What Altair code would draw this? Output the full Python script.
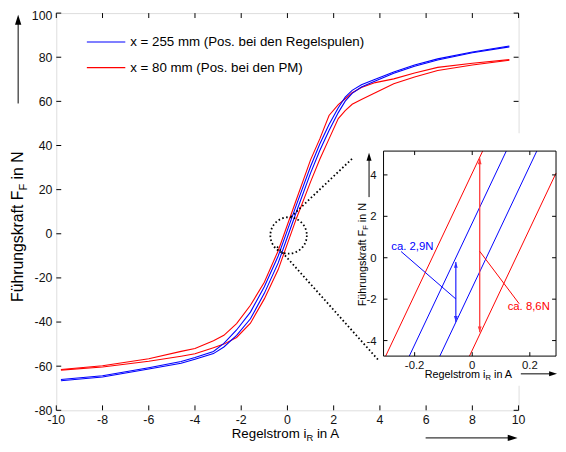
import altair as alt
import pandas as pd

FONT = "Liberation Sans"

# Regelstrom i_R in A
i_R = [-9.8, -8, -6, -4.6, -4, -3.2, -2.75, -2.2, -1.6, -1.0, -0.4, 0, 0.4,
       1.0, 1.4, 1.8, 2.2, 2.5, 2.8, 3.2, 3.8, 4.6, 5.5, 6.5, 8, 9.6]
# Fuehrungskraft F_F in N, x = 255 mm (two branches of the hysteresis loop)
F_255_a = [-66.0, -64.3, -60.7, -57.9, -56.1, -53.3, -49.7, -43.6, -35.5, -24.0, -10.08, 1.68, 13.44,
           30.5, 40.7, 49.5, 57.1, 61.9, 65.0, 67.5, 70.0, 73.3, 76.5, 79.25, 82.4, 85.1]
F_255_b = [-66.6, -64.9, -61.3, -58.7, -56.9, -54.3, -51.3, -46.0, -38.5, -27.0, -13.2, -1.44, 10.32,
           27.5, 37.7, 46.8, 54.9, 60.1, 63.6, 66.5, 69.2, 72.7, 75.9, 78.75, 82.0, 84.7]
# x = 80 mm
F_80_a = [-61.5, -59.8, -56.6, -53.3, -52.0, -48.5, -46.0, -40.7, -32.4, -22.0, -7.67, 4.09, 15.85,
          33.5, 43.0, 53.6, 58.5, 61.2, 63.9, 66.3, 68.5, 70.2, 72.9, 75.4, 77.3, 78.9]
F_80_b = [-61.8, -60.4, -57.8, -55.5, -54.4, -51.6, -50.0, -47.0, -40.5, -29.5, -16.23, -4.47, 7.29,
          23.5, 33.8, 43.0, 52.2, 55.8, 58.7, 60.8, 63.9, 68.0, 71.0, 74.0, 76.5, 78.6]

legend_labels = ["x = 255 mm (Pos. bei den Regelspulen)", "x = 80 mm (Pos. bei den PM)"]

x_ticks = [-10, -8, -6, -4, -2, 0, 2, 4, 6, 8, 10]
x_tick_labels = ["-10", "-8", "-6", "-4", "-2", "0", "2", "4", "6", "8", "10"]
y_ticks = [-80, -60, -40, -20, 0, 20, 40, 60, 80, 100]
y_tick_labels = ["-80", "-60", "-40", "-20", "0", "20", "40", "60", "80", "100"]

# ---------------- inset (zoom around the origin) ----------------
ins_x_ticks = [-0.2, 0, 0.2]
ins_x_tick_labels = ["-0.2", "0", "0.2"]
ins_y_ticks = [-4, -2, 0, 2, 4]
ins_y_tick_labels = ["-4", "-2", "0", "2", "4"]
# the four loop branches inside the inset window (start / end points)
ins_x1 = [-0.3006, -0.2186, -0.1126, -0.0096]
ins_F1 = [-4.75, -4.75, -4.75, -4.75]
ins_x2 = [0.0362, 0.1182, 0.2242, 0.291]
ins_F2 = [5.15, 5.15, 5.15, 4.087]
ins_col = ["#ff0000", "#0000ff", "#0000ff", "#ff0000"]
# hysteresis-width arrows
arr_x = [-0.057, 0.026]
arr_top = [-0.2, 4.8]
arr_bot = [-3.1, -3.6]
arr_col = ["#3030ff", "#ff3a3a"]
# annotation texts and leader lines
ann_text = ["ca. 2,9N", "ca. 8,6N"]
ann_tx = [-0.281, 0.123]
ann_tF = [0.36, -2.54]
ann_x1 = [-0.247, 0.026]
ann_F1 = [0.30, 0.31]
ann_x2 = [-0.057, 0.163]
ann_F2 = [-1.99, -2.22]
ann_col = ["#0000ff", "#ff0000"]

# zoom marker (dotted circle + dotted leader lines) in main-axis units
zoom_cx, zoom_cF = [0.05], [-0.76]
zl_x1 = [0.149, -0.448]
zl_F1 = [7.6, -5.8]
zl_x2 = [2.836, 3.915]
zl_F2 = [34.4, -57.0]

# ---------------- scales ----------------
xs = alt.Scale(domain=[-10, 10], nice=False, zero=False)
ys = alt.Scale(domain=[-80, 100], nice=False, zero=False)
ixs = alt.Scale(domain=[-0.308, 0.291], range=[332, 507], nice=False, zero=False)
iys = alt.Scale(domain=[-4.75, 5.15], range=[348, 140], nice=False, zero=False)

one = pd.DataFrame({"k": [0]})

UP = "M0,0L-0.32,1L0.32,1Z"
DOWN = "M0,0L-0.32,-1L0.32,-1Z"
RIGHT = "M0,0L-1,-0.32L-1,0.32Z"


def txt(s, x, y, size, color="black", angle=0):
    return alt.Chart(one).mark_text(
        text=s, fontSize=size, font=FONT, color=color, angle=angle,
        align="left", baseline="alphabetic"
    ).encode(x=alt.value(x), y=alt.value(y))


def seg(x1, y1, x2, y2, color="black", w=1.0):
    return alt.Chart(one).mark_rule(color=color, strokeWidth=w).encode(
        x=alt.value(x1), y=alt.value(y1), x2=alt.value(x2), y2=alt.value(y2))


def head(x, y, path, size, color="black"):
    return alt.Chart(one).mark_point(
        shape=path, size=size, filled=True, color=color, opacity=1, strokeWidth=0
    ).encode(x=alt.value(x), y=alt.value(y))


# ---------------- main group ----------------
n = len(i_R)
curves = pd.DataFrame({
    "i": i_R * 4,
    "F": F_80_a + F_80_b + F_255_a + F_255_b,
    "s": ["80a"] * n + ["80b"] * n + ["255a"] * n + ["255b"] * n,
})
curve_layer = alt.Chart(curves).mark_line(strokeWidth=1.1).encode(
    x=alt.X("i:Q", scale=xs, axis=None),
    y=alt.Y("F:Q", scale=ys, axis=None),
    color=alt.Color("s:N", scale=alt.Scale(domain=["80a", "80b", "255a", "255b"],
                                           range=["#ff0000", "#ff0000", "#0000ff", "#0000ff"]),
                    legend=None),
)

xt = pd.DataFrame({"v": x_ticks, "lab": x_tick_labels})
yt = pd.DataFrame({"v": y_ticks, "lab": y_tick_labels})

xtick_b = alt.Chart(xt).mark_rule(color="black").encode(
    x=alt.X("v:Q", scale=xs, axis=None), y=alt.value(398), y2=alt.value(403))
xtick_t = alt.Chart(xt).mark_rule(color="black").encode(
    x=alt.X("v:Q", scale=xs, axis=None), y=alt.value(0), y2=alt.value(5))
ytick_l = alt.Chart(yt).mark_rule(color="black").encode(
    y=alt.Y("v:Q", scale=ys, axis=None), x=alt.value(0), x2=alt.value(5))
ytick_r = alt.Chart(yt).mark_rule(color="black").encode(
    y=alt.Y("v:Q", scale=ys, axis=None), x=alt.value(464), x2=alt.value(469))

xlab = alt.Chart(xt).mark_text(font=FONT, fontSize=12.5, align="center", baseline="alphabetic",
                               color="#111").encode(
    x=alt.X("v:Q", scale=xs, axis=None), y=alt.value(416.7), text="lab:N")
ylab = alt.Chart(yt).transform_filter("datum.v < 100").mark_text(
    font=FONT, fontSize=12.5, align="right", baseline="alphabetic", dy=4.5, color="#111").encode(
    y=alt.Y("v:Q", scale=ys, axis=None), x=alt.value(-4), text="lab:N")
ylab_top = alt.Chart(yt).transform_filter("datum.v >= 100").mark_text(
    font=FONT, fontSize=12.5, align="right", baseline="alphabetic", dy=6.5, color="#111").encode(
    y=alt.Y("v:Q", scale=ys, axis=None), x=alt.value(-4), text="lab:N")

main_layers = [
    curve_layer, xtick_b, xtick_t, ytick_l, ytick_r, xlab, ylab, ylab_top,
    # legend
    seg(31, 29.3, 70, 29.3, "#0000ff", 1.2), txt(legend_labels[0], 75, 33.5, 13.5),
    seg(31, 55.3, 70, 55.3, "#ff0000", 1.2), txt(legend_labels[1], 75, 59.5, 13.5),
    # x title (subscript drawn separately)
    txt("Regelstrom i", 178, 431, 13.5), txt("R", 253.8, 434, 9.5), txt("in A", 264.4, 431, 13.5),
    # y title (rotated, subscript drawn separately)
    txt("Führungskraft F", -33.5, 293, 16, angle=270), txt("F", -30, 180.1, 11.2, angle=270),
    txt("in N", -33.5, 168.8, 16, angle=270),
    # direction arrows
    seg(-38.7, 91.7, -38.7, 10), head(-38.7, 1.7, UP, 400),
    seg(374.7, 431, 460, 431), head(468, 431, RIGHT, 400),
]
main_group = alt.layer(*main_layers)

# ---------------- inset group ----------------
ins_lines = pd.DataFrame({"x1": ins_x1, "F1": ins_F1, "x2": ins_x2, "F2": ins_F2, "c": ins_col})
ixt = pd.DataFrame({"v": ins_x_ticks, "lab": ins_x_tick_labels})
iyt = pd.DataFrame({"v": ins_y_ticks, "lab": ins_y_tick_labels})
arrows = pd.DataFrame({"x": arr_x, "top": arr_top, "bot": arr_bot, "c": arr_col})
ann = pd.DataFrame({"tx": ann_tx, "tF": ann_tF, "t": ann_text, "x1": ann_x1, "F1": ann_F1,
                    "x2": ann_x2, "F2": ann_F2, "c": ann_col})

IX = lambda f: alt.X(f, type="quantitative", scale=ixs, axis=None)
IY = lambda f: alt.Y(f, type="quantitative", scale=iys, axis=None)

white_bg = alt.Chart(one).mark_rect(color="white").encode(
    x=alt.value(301), x2=alt.value(509), y=alt.value(122), y2=alt.value(378))
ins_box = alt.Chart(one).mark_rect(fillOpacity=0, stroke="black", strokeWidth=1).encode(
    x=alt.value(332), x2=alt.value(507), y=alt.value(140), y2=alt.value(348))

ins_layers = [
    white_bg,
    alt.Chart(ins_lines).mark_rule(strokeWidth=1).encode(
        x=IX("x1"), y=IY("F1"), x2="x2", y2="F2", color=alt.Color("c:N", scale=None)),
    alt.Chart(ixt).mark_rule(color="black").encode(x=IX("v"), y=alt.value(344), y2=alt.value(348)),
    alt.Chart(ixt).mark_rule(color="black").encode(x=IX("v"), y=alt.value(140), y2=alt.value(144)),
    alt.Chart(iyt).mark_rule(color="black").encode(y=IY("v"), x=alt.value(332), x2=alt.value(336)),
    alt.Chart(iyt).mark_rule(color="black").encode(y=IY("v"), x=alt.value(503), x2=alt.value(507)),
    ins_box,
    alt.Chart(ixt).mark_text(font=FONT, fontSize=11.5, align="center", baseline="alphabetic",
                             color="#111").encode(x=IX("v"), y=alt.value(361.5), text="lab:N"),
    alt.Chart(iyt).mark_text(font=FONT, fontSize=11.5, align="right", baseline="alphabetic",
                             dy=4.1, color="#111").encode(y=IY("v"), x=alt.value(325), text="lab:N"),
    # hysteresis arrows
    alt.Chart(arrows).mark_rule(strokeWidth=1.3).encode(
        x=IX("x"), y=IY("top"), y2="bot", color=alt.Color("c:N", scale=None)),
    alt.Chart(arrows).mark_point(shape=UP, size=144, filled=True, opacity=1, strokeWidth=0).encode(
        x=IX("x"), y=IY("top"), color=alt.Color("c:N", scale=None)),
    alt.Chart(arrows).mark_point(shape=DOWN, size=144, filled=True, opacity=1, strokeWidth=0).encode(
        x=IX("x"), y=IY("bot"), color=alt.Color("c:N", scale=None)),
    # annotations
    alt.Chart(ann).mark_rule(strokeWidth=1).encode(
        x=IX("x1"), y=IY("F1"), x2="x2", y2="F2", color=alt.Color("c:N", scale=None)),
    alt.Chart(ann).mark_text(font=FONT, fontSize=11.5, align="left", baseline="alphabetic").encode(
        x=IX("tx"), y=IY("tF"), text="t:N", color=alt.Color("c:N", scale=None)),
    # inset titles
    txt("Regelstrom i", 373.7, 370, 11), txt("R", 435.4, 372.5, 7.7), txt("in A", 444.1, 370, 11),
    txt("Führungskraft F", 314, 297.5, 11, angle=270), txt("F", 316.5, 219.9, 7.7, angle=270),
    txt("in N", 314, 212.1, 11, angle=270),
    seg(317.3, 186.7, 317.3, 148), head(317.3, 141.7, UP, 256),
    seg(471.3, 366, 502, 366), head(508, 366, RIGHT, 256),
]
inset_group = alt.layer(*ins_layers)

# ---------------- overlay: zoom marker ----------------
zl = pd.DataFrame({"x1": zl_x1, "F1": zl_F1, "x2": zl_x2, "F2": zl_F2})
zc = pd.DataFrame({"x": zoom_cx, "F": zoom_cF})
overlay_group = alt.layer(
    alt.Chart(zl).mark_rule(color="black", strokeWidth=1.8, strokeDash=[1.6, 2.4]).encode(
        x=alt.X("x1:Q", scale=xs, axis=None), y=alt.Y("F1:Q", scale=ys, axis=None), x2="x2", y2="F2"),
    alt.Chart(zc).mark_point(shape="circle", size=1369, filled=False, color="black", opacity=1,
                             strokeWidth=1.8, strokeDash=[1.6, 2.4]).encode(
        x=alt.X("x:Q", scale=xs, axis=None), y=alt.Y("F:Q", scale=ys, axis=None)),
)

chart = alt.layer(main_group, inset_group, overlay_group).resolve_scale(
    x="independent", y="independent"
).properties(
    width=469, height=403,
    padding={"left": 49, "top": 2, "right": 40, "bottom": 31},
    autosize=alt.AutoSizeParams(type="none"),
).configure_view(stroke="black", strokeWidth=1.2).configure(font=FONT)

chart.save("out.html", embed_options={"renderer": "svg", "actions": False})
